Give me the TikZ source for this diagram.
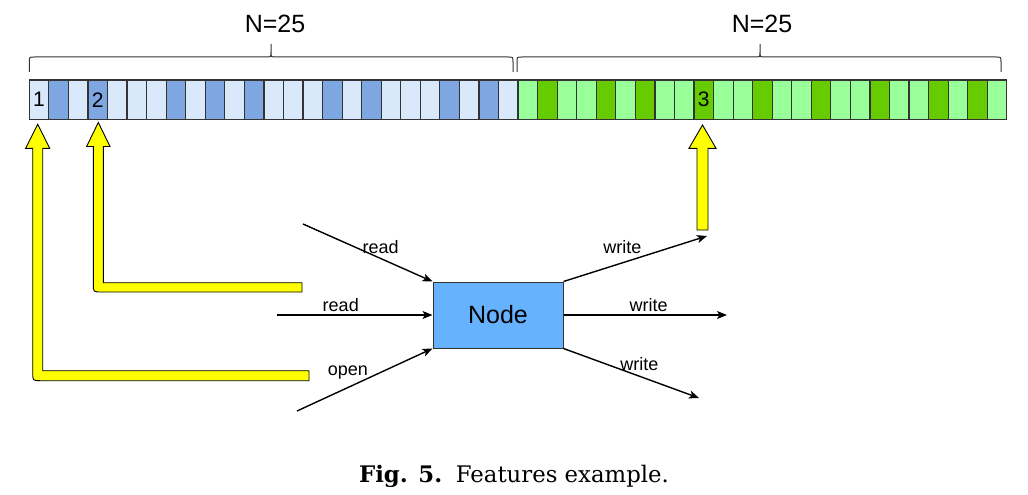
\documentclass[tikz,border=0pt]{standalone}
\usepackage{fontspec}
\setmainfont{Liberation Sans}
\newfontfamily\capfont{DejaVu Serif}
\usetikzlibrary{arrows.meta}
\definecolor{lblue}{HTML}{DAE8FC}
\definecolor{dblue}{HTML}{7EA6E0}
\definecolor{lgreen}{HTML}{99FF99}
\definecolor{dgreen}{HTML}{66CC00}
\definecolor{nodeblue}{HTML}{66B2FF}
\definecolor{yel}{HTML}{FFFF00}
\definecolor{edgec}{HTML}{333333}
\begin{document}
\begin{tikzpicture}[x=1pt,y=-1pt,
  cell/.style={draw=edgec, line width=1.2pt, minimum width=19.55pt, minimum height=39.3pt, inner sep=0pt, outer sep=0pt},
  celltxt/.style={font=\fontsize{21}{21}\selectfont, inner sep=0pt},
  bracestyle/.style={draw=edgec, line width=1pt},
  ntxt/.style={font=\fontsize{25}{25}\selectfont, anchor=base, inner sep=0pt},
  yarrow/.style={fill=yel, draw=black, line width=0.9pt, line join=miter},
  conn/.style={draw=black, line width=1.4pt, -{Stealth[length=10pt,width=8pt,inset=2.5pt]}},
  lbl/.style={font=\fontsize{18}{18}\selectfont, inner sep=0pt},
  mainnode/.style={draw=edgec, fill=nodeblue, line width=1pt, minimum width=130pt, minimum height=66pt, font=\fontsize{25}{25}\selectfont}
]
\useasboundingbox (0,0) rectangle (1028,495);

% cells
\foreach \i/\c in {0/lblue,1/dblue,2/lblue,3/dblue,4/lblue,5/lblue,6/lblue,7/dblue,8/lblue,9/dblue,10/lblue,11/dblue,12/lblue,13/lblue,14/lblue,15/dblue,16/lblue,17/dblue,18/lblue,19/lblue,20/lblue,21/dblue,22/lblue,23/dblue,24/lblue,25/lgreen,26/dgreen,27/lgreen,28/lgreen,29/dgreen,30/lgreen,31/dgreen,32/lgreen,33/lgreen,34/dgreen,35/lgreen,36/lgreen,37/dgreen,38/lgreen,39/lgreen,40/dgreen,41/lgreen,42/lgreen,43/dgreen,44/lgreen,45/lgreen,46/dgreen,47/lgreen,48/dgreen,49/lgreen}{
  \node[cell, fill=\c] (c\i) at ({29.3+19.55*\i+9.775}, 99.7) {};
}
\node[celltxt] (t1) at (c0) {1};
\node[celltxt] (t2) at (c3) {2};
\node[celltxt] (t3) at (c34) {3};

% braces
\draw[bracestyle] (29.3,72) -- (29.3,62) .. controls (29.3,57) .. (34.3,57) -- (266,57) .. controls (271,57) .. (271,52) -- (271,44)
  (271,52) .. controls (271,57) .. (276,57) -- (508,57) .. controls (513,57) .. (513,62) -- (513,72);
\draw[bracestyle] (517,72) -- (517,62) .. controls (517,57) .. (522,57) -- (755,57) .. controls (760,57) .. (760,52) -- (760,44)
  (760,52) .. controls (760,57) .. (765,57) -- (996,57) .. controls (1001,57) .. (1001,62) -- (1001,72);
\node[ntxt] (n1) at (275,33) {N=25};
\node[ntxt] (n2) at (762,33) {N=25};

% yellow arrows
\draw[yarrow] (309,370.7) -- (42.7,370.7) -- (42.7,148.3) -- (49.7,148.3) -- (37.7,124.3) -- (25.7,148.3) -- (32.7,148.3) -- (32.7,372.7) .. controls (32.7,380.7) .. (40.7,380.7) -- (309,380.7) -- cycle;
\draw[yarrow] (302,282.7) -- (103.3,282.7) -- (103.3,146.5) -- (110,146.5) -- (98.3,122.5) -- (86.6,146.5) -- (93.3,146.5) -- (93.3,284) .. controls (93.3,292) .. (101.3,292) -- (302,292) -- cycle;
\draw[yarrow] (697,230) -- (697,148.3) -- (689,148.3) -- (702.5,125) -- (716,148.3) -- (708,148.3) -- (708,230) -- cycle;

% main node
\node[mainnode] (N) at (498,315) {Node};

\coordinate (i1) at (303,224);
\coordinate (i2) at (277,315);
\coordinate (i3) at (297,411);
\coordinate (o1) at (707,236);
\coordinate (o2) at (727,315);
\coordinate (o3) at (699,398);

\draw[conn] (i1) -- node[lbl, pos=0.6, yshift=11pt] {read} (N.north west);
\draw[conn] (i2) -- node[lbl, pos=0.41, yshift=10pt] {read} (N.west);
\draw[conn] (i3) -- node[lbl, pos=0.375, yshift=15pt] {open} (N.south west);
\draw[conn] (N.north east) -- node[lbl, pos=0.41, yshift=16pt] {write} (o1);
\draw[conn] (N.east) -- node[lbl, pos=0.52, yshift=10pt] {write} (o2);
\draw[conn] (N.south east) -- node[lbl, pos=0.56, yshift=12pt] {write} (o3);

% caption
\node[anchor=base, inner sep=0pt, font=\capfont\fontsize{22.8}{22.8}\selectfont] (cap) at (514,482) {\textbf{Fig. 5.}\hspace{0.6em}Features example.};
\end{tikzpicture}
\end{document}
